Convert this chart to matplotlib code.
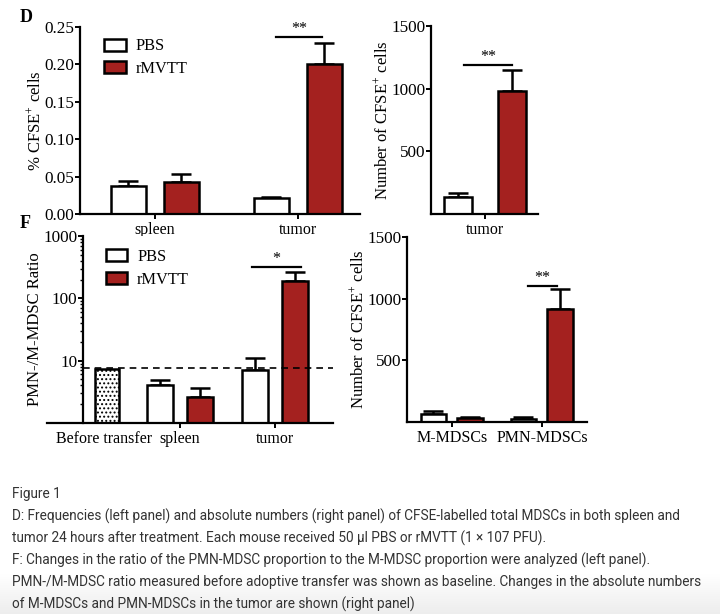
import numpy as np
import matplotlib
matplotlib.use("Agg")
from matplotlib import pyplot as plt

plt.rcParams['font.family'] = 'Liberation Serif'
plt.rcParams['mathtext.fontset'] = 'custom'
plt.rcParams['mathtext.rm'] = 'Liberation Serif'
plt.rcParams['mathtext.it'] = 'Liberation Serif:italic'
plt.rcParams['hatch.linewidth'] = 0.9

# panel D left: % CFSE+ cells
d_groups = ["spleen", "tumor"]
d_pbs = [0.037, 0.021]
d_pbs_err = [0.007, 0.002]
d_mvtt = [0.043, 0.201]
d_mvtt_err = [0.010, 0.027]

# panel D right: number of CFSE+ cells in tumor
dn_groups = ["tumor"]
dn_pbs = [135]
dn_pbs_err = [30]
dn_mvtt = [980]
dn_mvtt_err = [170]

# panel F left: PMN-/M-MDSC ratio
f_before = 7.45
f_groups = ["spleen", "tumor"]
f_pbs = [4.1, 7.0]
f_pbs_err = [0.85, 4.0]
f_mvtt = [2.6, 190]
f_mvtt_err = [1.05, 70]
f_baseline = 7.6

# panel F right: number of CFSE+ cells by subset
fn_groups = ["M-MDSCs", "PMN-MDSCs"]
fn_pbs = [65, 28]
fn_pbs_err = [27, 12]
fn_mvtt = [30, 915]
fn_mvtt_err = [10, 160]

red = "#a4211f"
W, H = 720, 614
fig = plt.figure(figsize=(7.2, 6.14), dpi=100)

# light grey fade at the bottom of the caption
bg = fig.add_axes([0, 0, 1, 40 / H], zorder=-5)
shade = np.linspace(1.0, 0.93, 50)
bg.imshow(np.dstack([shade, shade, shade]).reshape(-1, 1, 3), aspect='auto',
          extent=[0, 1, 0, 1], origin='upper')
bg.axis('off')


def box(x0, y0, x1, y1):
    # pixel box -> figure fraction
    return [x0 / W, 1 - y1 / H, (x1 - x0) / W, (y1 - y0) / H]


def style(ax):
    for s in ['top', 'right']:
        ax.spines[s].set_visible(False)
    for s in ['left', 'bottom']:
        ax.spines[s].set_linewidth(1.6)
    ax.tick_params(width=1.4, length=3.5, pad=1)
    ax.tick_params(axis='y', labelsize=12.3, pad=0.5)
    ax.tick_params(axis='x', labelsize=11.5, pad=2.5)


def bars(ax, x, vals, errs, color, width):
    ax.bar(x, vals, width, color=color, edgecolor='black', linewidth=1.8, zorder=2)
    ax.errorbar(x, vals, yerr=[np.zeros(len(vals)), errs], fmt='none',
                ecolor='black', elinewidth=1.8, capsize=7, capthick=1.8, zorder=1)


def star(ax, x0, x1, y, txt):
    ax.plot([x0, x1], [y, y], color='black', lw=1.6, clip_on=False)
    ax.text((x0 + x1) / 2, y, txt, ha='center', va='bottom', fontsize=11.5)


def legend(ax, anchor):
    ax.legend([plt.Rectangle((0, 0), 1, 1, fc='white', ec='black', lw=1.8),
               plt.Rectangle((0, 0), 1, 1, fc=red, ec='black', lw=1.8)],
              ["PBS", "rMVTT"], loc='upper left', bbox_to_anchor=anchor,
              frameon=False, fontsize=11.8, handlelength=1.3, handleheight=0.75,
              labelspacing=0.42, handletextpad=0.6, borderpad=0.3)


ylab = r'% CFSE$^{+}$ cells'
nlab = r'Number of CFSE$^{+}$ cells'

# ---- D left
ax = fig.add_axes(box(80, 27, 360, 214))
style(ax)
x = np.arange(len(d_groups))
bars(ax, x - 0.185, d_pbs, d_pbs_err, 'white', 0.25)
bars(ax, x + 0.185, d_mvtt, d_mvtt_err, red, 0.25)
ax.set_xlim(-0.524, 1.434)
ax.set_ylim(0, 0.25)
ax.set_yticks([0, 0.05, 0.10, 0.15, 0.20, 0.25])
ax.set_yticklabels(["0.00", "0.05", "0.10", "0.15", "0.20", "0.25"])
ax.set_xticks(x)
ax.set_xticklabels(d_groups)
ax.set_ylabel(ylab, fontsize=12, labelpad=0)
star(ax, 0.85, 1.17, 0.237, "**")
legend(ax, (0.04, 1.01))

# ---- D right
ax = fig.add_axes(box(431, 26, 538, 214))
style(ax)
x = np.arange(len(dn_groups))
bars(ax, x - 0.19, dn_pbs, dn_pbs_err, 'white', 0.196)
bars(ax, x + 0.19, dn_mvtt, dn_mvtt_err, red, 0.196)
ax.set_xlim(-0.378, 0.371)
ax.set_ylim(0, 1500)
ax.set_yticks([500, 1000, 1500])
ax.set_xticks(x)
ax.set_xticklabels(dn_groups)
ax.set_ylabel(nlab, fontsize=12, labelpad=0)
star(ax, -0.15, 0.19, 1190, "**")

# ---- F left
ax = fig.add_axes(box(47, 236, 333, 423))
style(ax)
ax.spines['left'].set_position(('axes', (83 - 47) / (333 - 47)))
ax.set_yscale('log')
ax.bar([0.23], [f_before], 0.26, color='white', edgecolor='black',
       linewidth=1.8, hatch='....', zorder=2)
x = np.arange(len(f_groups)) + 1
bars(ax, x - 0.21, f_pbs, f_pbs_err, 'white', 0.28)
bars(ax, x + 0.21, f_mvtt, f_mvtt_err, red, 0.28)
ax.axhline(f_baseline, xmin=(83 - 47) / (333 - 47), xmax=1, color='black',
           lw=1.2, ls=(0, (4, 3)), zorder=3)
ax.set_xlim(-0.4, 2.61)
ax.set_ylim(1, 1000)
ax.set_yticks([10, 100, 1000])
ax.set_yticklabels(["10", "100", "1000"])
ax.tick_params(axis='y', which='minor', length=2.5, width=1.0)
ax.set_xticks(x)
ax.set_xticklabels(f_groups)
ax.text(0.2, -0.045, "Before transfer", transform=ax.get_xaxis_transform(),
        ha='center', va='top', fontsize=11.5)
ax.set_ylabel("PMN-/M-MDSC Ratio", fontsize=12, labelpad=0)
star(ax, 1.76, 2.27, 320, "*")
legend(ax, (0.16, 1.0))

# ---- F right
ax = fig.add_axes(box(407, 237, 587, 422))
style(ax)
x = np.arange(len(fn_groups))
bars(ax, x - 0.21, fn_pbs, fn_pbs_err, 'white', 0.28)
bars(ax, x + 0.20, fn_mvtt, fn_mvtt_err, red, 0.28)
ax.set_xlim(-0.5, 1.5)
ax.set_ylim(0, 1500)
ax.set_yticks([500, 1000, 1500])
ax.set_xticks(x)
ax.set_xticklabels(fn_groups)
ax.set_ylabel(nlab, fontsize=12, labelpad=0)
star(ax, 0.84, 1.17, 1100, "**")

# panel letters
fig.text(20 / W, 1 - 17 / H, "D", fontsize=13, fontweight='bold', va='center')
fig.text(20 / W, 1 - 224 / H, "F", fontsize=13, fontweight='bold', va='center')

# caption
caption = [
    "Figure 1",
    "D: Frequencies (left panel) and absolute numbers (right panel) of CFSE-labelled total MDSCs in both spleen and",
    "tumor 24 hours after treatment. Each mouse received 50 \u00b5l PBS or rMVTT (1 \u00d7 107 PFU).",
    "F: Changes in the ratio of the PMN-MDSC proportion to the M-MDSC proportion were analyzed (left panel).",
    "PMN-/M-MDSC ratio measured before adoptive transfer was shown as baseline. Changes in the absolute numbers",
    "of M-MDSCs and PMN-MDSCs in the tumor are shown (right panel)",
]
for i, line in enumerate(caption):
    fig.text(12 / W, 1 - (494 + 22 * i) / H, line, fontsize=9.85, family='Roboto',
             color='#333333', va='center')

fig.savefig("out.png", dpi=100)
